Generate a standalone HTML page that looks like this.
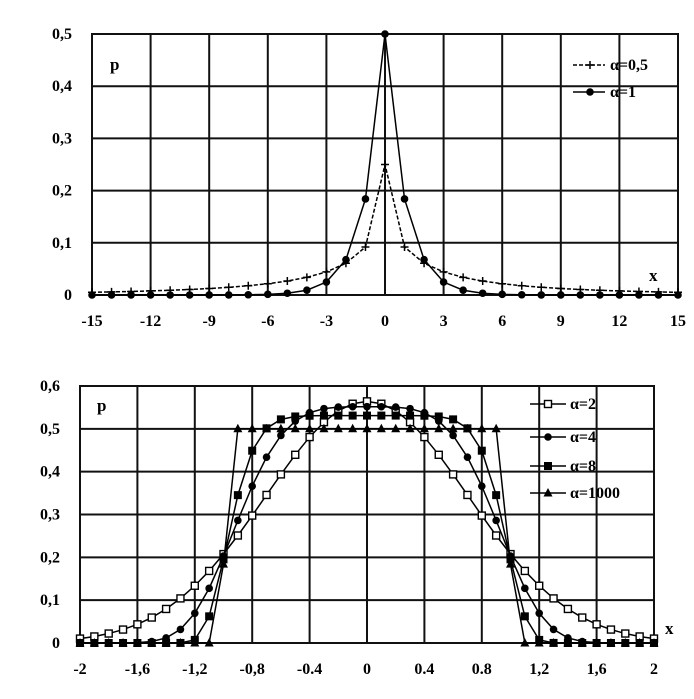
<!DOCTYPE html>
<html><head><meta charset="utf-8"><style>
html,body{margin:0;padding:0;background:#fff;}
svg{display:block;font-family:"Liberation Serif",serif;font-weight:bold;}
</style></head><body>
<svg id="s" width="694" height="699" xmlns="http://www.w3.org/2000/svg"></svg>
<script>
const s=document.getElementById('s');let h='';
function G(z){
 const p=[676.5203681218851,-1259.1392167224028,771.32342877765313,-176.61502916214059,12.507343278686905,-0.13857109526572012,9.9843695780195716e-6,1.5056327351493116e-7];
 if(z<0.5)return Math.PI/(Math.sin(Math.PI*z)*G(1-z));
 z-=1;let x=0.99999999999980993;for(let i=0;i<8;i++)x+=p[i]/(z+i+1);const t=z+7.5;return Math.sqrt(2*Math.PI)*Math.pow(t,z+0.5)*Math.exp(-t)*x;}
function pdf(a,x){return a/(2*G(1/a))*Math.exp(-Math.pow(Math.abs(x),a));}
function chart(L,R,T,B,x0,x1,dx,ymax,fx){
 const X=v=>L+(v-x0)/(x1-x0)*(R-L),Y=v=>B-v/ymax*(B-T);
 for(let v=x0;v<=x1+1e-9;v+=dx){const x=X(v);h+=`<line x1="${x}" y1="${T}" x2="${x}" y2="${B}" stroke="#111" stroke-width="2"/>`;
  h+=`<text x="${x}" y="${B+31}" font-size="16" text-anchor="middle">${fx(v)}</text>`;}
 for(let i=0;i<=Math.round(ymax*10);i++){const y=Y(i/10);h+=`<line x1="${L}" y1="${y}" x2="${R}" y2="${y}" stroke="#111" stroke-width="2"/>`;
  h+=`<text x="${L-20}" y="${y+5}" font-size="16" text-anchor="end">${i==0?'0':'0,'+i}</text>`;}
 h+=`<rect x="${L}" y="${T}" width="${R-L}" height="${B-T}" fill="none" stroke="#111" stroke-width="2"/>`;
 return {X,Y};
}
function mk(t,x,y){
 if(t=='plus')return `<path d="M${x-4},${y}H${x+4}M${x},${y-4}V${y+4}" stroke="#000" stroke-width="1.5"/>`;
 if(t=='dot')return `<circle cx="${x}" cy="${y}" r="3.8" fill="#000"/>`;
 if(t=='osq')return `<rect x="${x-3.5}" y="${y-3.5}" width="7" height="7" fill="#fff" stroke="#000" stroke-width="1.4"/>`;
 if(t=='sq')return `<rect x="${x-4}" y="${y-4}" width="8" height="8" fill="#000"/>`;
 if(t=='tri')return `<path d="M${x},${y-5}L${x+4.5},${y+3.5}L${x-4.5},${y+3.5}Z" fill="#000"/>`;
}
function series(c,a,xs,t,dash){
 const pts=xs.map(x=>[c.X(x),c.Y(pdf(a,x))]);
 h+=`<polyline points="${pts.map(p=>p.join(',')).join(' ')}" fill="none" stroke="#000" stroke-width="1.5" ${dash?'stroke-dasharray="4,2"':''}/>`;
 pts.forEach(p=>h+=mk(t,p[0],p[1]));
}
let c=chart(92,678,34,295,-15,15,3,0.5,v=>v<0?'-'+(-v):''+v);
let xs=[];for(let i=-15;i<=15;i++)xs.push(i);
series(c,0.5,xs,'plus',true);series(c,1,xs,'dot',false);
h+=`<text x="110" y="70" font-size="17">p</text><text x="649" y="281" font-size="17">x</text>`;
h+=`<line x1="573" y1="65" x2="605" y2="65" stroke="#000" stroke-width="1.5" stroke-dasharray="4,2"/>`+mk('plus',590,65)+`<text x="610" y="70" font-size="16">α=0,5</text>`;
h+=`<line x1="573" y1="92" x2="605" y2="92" stroke="#000" stroke-width="1.5"/>`+mk('dot',590,92)+`<text x="610" y="97" font-size="16">α=1</text>`;
c=chart(80,654,386,643,-2,2,0.4,0.6,v=>{v=Math.round(v*10)/10;if(v==0)return '0';const m={'-0.4':'-0.4','0.4':'0.4','0.8':'0.8'};const k=String(v);if(m[k])return m[k];return (v<0?'-':'')+Math.abs(v).toString().replace('.',',');});
xs=[];for(let i=-20;i<=20;i++)xs.push(i/10);
series(c,2,xs,'osq');series(c,4,xs,'dot');series(c,8,xs,'sq');series(c,1000,xs,'tri');
h+=`<text x="97" y="411" font-size="17">p</text><text x="665" y="634" font-size="17">x</text>`;
[['osq','α=2',404],['dot','α=4',437],['sq','α=8',466],['tri','α=1000',493]].forEach(([t,l,y])=>{
 h+=`<line x1="530" y1="${y}" x2="566" y2="${y}" stroke="#000" stroke-width="1.5"/>`+mk(t,548,y)+`<text x="570" y="${y+5}" font-size="16">${l}</text>`;});
s.innerHTML=h;
</script>
</body></html>
